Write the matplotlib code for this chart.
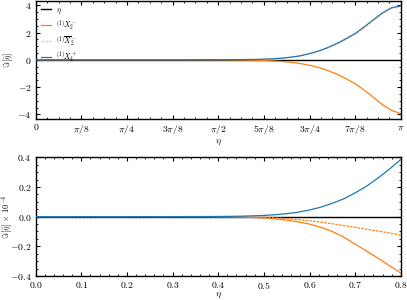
import numpy as np
import matplotlib
matplotlib.use("Agg")
import matplotlib.pyplot as plt
from matplotlib.ticker import MultipleLocator, FixedLocator

plt.rcParams['font.family'] = 'serif'
plt.rcParams['font.serif'] = ['cmr10', 'DejaVu Serif']
plt.rcParams['mathtext.fontset'] = 'cm'
plt.rcParams['axes.formatter.use_mathtext'] = True
plt.rcParams['axes.unicode_minus'] = True

# ---- data: top panel (eta in units of pi) ----
top_eta_over_pi = [0, 0.4, 0.5, 0.55, 0.6, 0.625, 0.65, 0.675, 0.7, 0.725, 0.75,
                   0.775, 0.8, 0.825, 0.85, 0.875, 0.9, 0.925, 0.95, 0.975, 1.0]
top_X4p = [0, 0, 0.005, 0.015, 0.03, 0.05, 0.08, 0.13, 0.2, 0.3, 0.46,
           0.65, 0.9, 1.2, 1.55, 1.93, 2.42, 2.95, 3.45, 3.83, 3.96]
top_X2m = [0, 0, -0.005, -0.015, -0.03, -0.05, -0.08, -0.12, -0.18, -0.27, -0.4,
           -0.56, -0.78, -1.05, -1.38, -1.75, -2.22, -2.75, -3.3, -3.72, -3.95]
top_X2m_bar = [0, 0, 0.004, 0.013, 0.027, 0.046, 0.075, 0.12, 0.19, 0.28, 0.44,
               0.62, 0.86, 1.15, 1.5, 1.87, 2.35, 2.88, 3.38, 3.77, 3.92]

# ---- data: bottom panel ----
bot_eta = [0, 0.3, 0.4, 0.45, 0.5, 0.525, 0.55, 0.575, 0.6, 0.625, 0.65,
           0.675, 0.7, 0.725, 0.75, 0.775, 0.8]
bot_X4p = [0, 0, 0.001, 0.003, 0.008, 0.013, 0.02, 0.03, 0.045, 0.064, 0.09,
           0.12, 0.16, 0.205, 0.26, 0.32, 0.385]
bot_X2m = [0, 0, -0.001, -0.003, -0.009, -0.015, -0.024, -0.035, -0.05, -0.072, -0.1,
           -0.138, -0.185, -0.232, -0.28, -0.33, -0.38]
bot_X2m_bar = [0, 0, -0.001, -0.002, -0.005, -0.008, -0.013, -0.02, -0.028, -0.037, -0.048,
               -0.06, -0.072, -0.085, -0.097, -0.11, -0.124]

pi_tick_labels = ['0', r'$\pi/8$', r'$\pi/4$', r'$3\pi/8$', r'$\pi/2$',
                  r'$5\pi/8$', r'$3\pi/4$', r'$7\pi/8$', r'$\pi$']

labels = [r'$\eta$', r'${}^{(1)}X_2^-$', r'${}^{(1)}\overline{X}_2^-$', r'${}^{(1)}X_4^+$']

orange = '#ff7f0e'
blue = '#1f77b4'

fig = plt.figure(figsize=(4.07, 3.0), dpi=100)
ax1 = fig.add_axes([0.0877, 0.603, 0.897, 0.395])
ax2 = fig.add_axes([0.0877, 0.08, 0.897, 0.3957])

te = np.array(top_eta_over_pi) * np.pi
ax1.axhline(0, color='black', lw=1.0, label=labels[0], zorder=1)
ax1.plot(te, top_X2m, color=orange, lw=0.9, label=labels[1], zorder=2)
ax1.plot(te, top_X2m_bar, color=orange, lw=0.9, ls=(0, (2, 1)), alpha=0.5, label=labels[2], zorder=2)
ax1.plot(te, top_X4p, color=blue, lw=0.9, label=labels[3], zorder=3)
ax1.set_xlim(0, np.pi)
ax1.set_ylim(-4.35, 4.35)
ax1.xaxis.set_major_locator(FixedLocator([i * np.pi / 8 for i in range(9)]))
ax1.set_xticklabels(pi_tick_labels)
ax1.xaxis.set_minor_locator(MultipleLocator(np.pi / 32))
ax1.yaxis.set_major_locator(MultipleLocator(2))
ax1.yaxis.set_minor_locator(MultipleLocator(0.5))
ax1.set_xlabel(r'$\eta$', fontsize=7, labelpad=1)
ax1.set_ylabel(r'$\Im[\bar{\eta}]$', fontsize=6)
leg = ax1.legend(loc='upper left', frameon=False, fontsize=5.5, handlelength=1.4,
                 handletextpad=0.6, labelspacing=0.25, borderaxespad=0.25)

ax2.axhline(0, color='black', lw=1.0, zorder=1)
ax2.plot(bot_eta, bot_X2m, color=orange, lw=0.9, zorder=2)
ax2.plot(bot_eta, bot_X2m_bar, color=orange, lw=0.9, ls=(0, (2, 1)), zorder=2)
ax2.plot(bot_eta, bot_X4p, color=blue, lw=0.9, zorder=3)
ax2.set_xlim(0, 0.8)
ax2.set_ylim(-0.4, 0.4)
ax2.xaxis.set_major_locator(MultipleLocator(0.1))
ax2.xaxis.set_minor_locator(MultipleLocator(0.02))
ax2.yaxis.set_major_locator(MultipleLocator(0.2))
ax2.yaxis.set_minor_locator(MultipleLocator(0.05))
ax2.set_xlabel(r'$\eta$', fontsize=7, labelpad=0)
ax2.set_ylabel(r'$\Im[\bar{\eta}]\,\times\,10^{-4}$', fontsize=6)

for ax in (ax1, ax2):
    ax.tick_params(which='both', direction='in', top=True, right=True, labelsize=7, pad=3)
    ax.tick_params(which='major', length=3, width=0.8)
    ax.tick_params(which='minor', length=1.5, width=0.6)
    ax.yaxis.set_label_coords(-0.057, 0.5)
    for s in ax.spines.values():
        s.set_linewidth(1.0)

fig.savefig('out.png', dpi=100)
